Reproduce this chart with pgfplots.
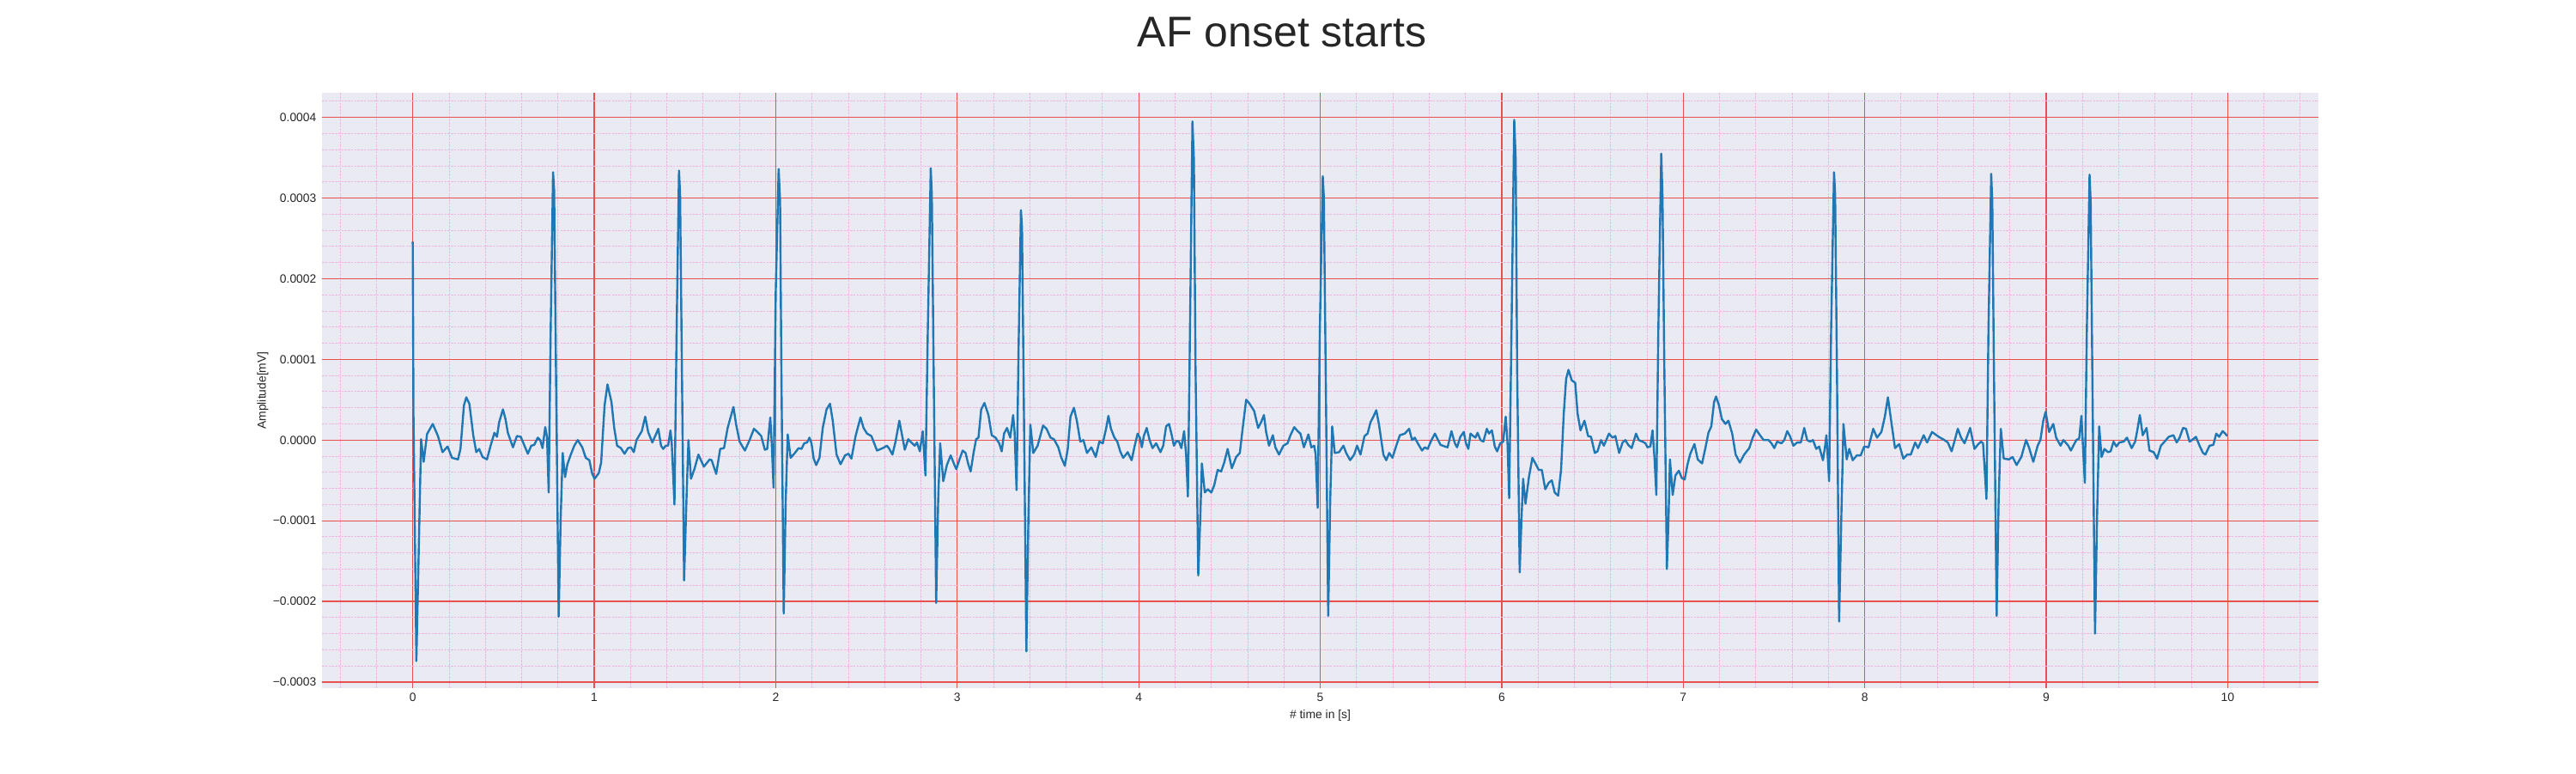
\documentclass[border=0pt]{standalone}
\usepackage{fontspec}
\setmainfont{Liberation Sans}
\usepackage{pgfplots}
\usepackage{pgfplotstable}
\pgfplotsset{compat=1.18}
\definecolor{bgc}{RGB}{234,234,242}
\definecolor{majc}{RGB}{232,80,80}
\definecolor{minc}{RGB}{238,180,226}
\definecolor{linec}{RGB}{31,119,180}
\definecolor{txt}{RGB}{38,38,38}
% t in s, v in units of 1e-4 mV
\pgfplotstableread{
t v
0.000 2.46
0.004 0.30
0.020 -2.74
0.046 0.01
0.060 -0.27
0.079 0.075
0.110 0.20
0.139 0.05
0.164 -0.15
0.192 -0.08
0.216 -0.22
0.249 -0.24
0.263 -0.11
0.282 0.43
0.295 0.53
0.312 0.45
0.334 0.05
0.350 -0.15
0.366 -0.11
0.385 -0.21
0.409 -0.24
0.429 -0.07
0.450 0.09
0.464 0.04
0.476 0.22
0.497 0.38
0.511 0.26
0.524 0.09
0.552 -0.09
0.574 0.05
0.595 0.04
0.610 -0.04
0.634 -0.17
0.653 -0.07
0.669 -0.06
0.689 0.03
0.702 0.00
0.715 -0.10
0.730 0.16
0.740 0.03
0.749 -0.65
0.760 1.37
0.773 3.32
0.779 3.10
0.789 0.90
0.804 -2.19
0.815 -0.98
0.826 -0.16
0.839 -0.46
0.852 -0.30
0.871 -0.18
0.890 -0.07
0.909 0.00
0.934 -0.09
0.953 -0.22
0.973 -0.25
0.989 -0.42
1.002 -0.48
1.025 -0.41
1.038 -0.28
1.057 0.43
1.073 0.69
1.095 0.47
1.110 0.15
1.126 -0.07
1.147 -0.10
1.167 -0.17
1.186 -0.10
1.202 -0.09
1.218 -0.15
1.233 0.00
1.246 0.05
1.262 0.11
1.281 0.29
1.297 0.10
1.320 -0.03
1.336 0.05
1.353 0.14
1.368 -0.07
1.380 -0.11
1.394 -0.07
1.407 -0.07
1.420 0.12
1.427 -0.04
1.442 -0.80
1.454 1.37
1.467 3.34
1.473 3.05
1.483 0.90
1.495 -1.74
1.508 -0.75
1.519 0.00
1.533 -0.48
1.552 -0.36
1.574 -0.18
1.604 -0.33
1.636 -0.24
1.647 -0.25
1.672 -0.42
1.694 -0.11
1.715 -0.10
1.735 0.15
1.767 0.41
1.782 0.19
1.801 -0.02
1.830 -0.13
1.856 0.00
1.880 0.14
1.899 0.10
1.920 0.05
1.940 -0.12
1.953 -0.11
1.970 0.28
1.978 -0.04
1.988 -0.59
2.000 1.83
2.016 3.36
2.024 2.96
2.031 0.90
2.044 -2.15
2.055 -0.75
2.066 0.07
2.082 -0.22
2.102 -0.17
2.126 -0.10
2.142 -0.11
2.157 -0.04
2.173 -0.03
2.186 0.03
2.197 -0.04
2.209 -0.23
2.223 -0.31
2.241 -0.22
2.259 0.15
2.280 0.38
2.299 0.45
2.314 0.24
2.335 -0.18
2.357 -0.30
2.382 -0.19
2.401 -0.17
2.417 -0.23
2.440 0.05
2.467 0.28
2.484 0.15
2.503 0.08
2.527 0.05
2.558 -0.13
2.590 -0.10
2.613 -0.07
2.626 -0.11
2.643 -0.18
2.660 -0.02
2.681 0.24
2.697 0.05
2.711 -0.12
2.730 0.01
2.747 -0.03
2.766 -0.07
2.778 -0.03
2.794 -0.14
2.810 0.11
2.825 -0.44
2.838 1.37
2.854 3.37
2.860 3.05
2.870 0.90
2.884 -2.02
2.895 -0.75
2.906 -0.04
2.923 -0.51
2.943 -0.31
2.964 -0.19
2.983 -0.30
2.995 -0.36
3.011 -0.25
3.030 -0.13
3.046 -0.16
3.061 -0.30
3.074 -0.39
3.090 -0.16
3.104 0.01
3.117 0.03
3.132 0.38
3.150 0.46
3.172 0.31
3.190 0.06
3.211 0.03
3.231 -0.04
3.245 -0.14
3.258 0.08
3.274 0.15
3.292 0.03
3.308 0.31
3.316 0.10
3.327 -0.62
3.338 1.13
3.351 2.85
3.357 2.63
3.365 0.90
3.381 -2.62
3.392 -0.98
3.403 0.19
3.419 -0.16
3.443 -0.07
3.473 0.18
3.492 0.14
3.514 0.03
3.533 0.01
3.557 -0.09
3.572 -0.21
3.593 -0.32
3.609 -0.11
3.624 0.29
3.643 0.40
3.659 0.24
3.678 -0.02
3.695 0.00
3.715 -0.16
3.739 -0.09
3.763 -0.21
3.783 -0.02
3.802 -0.04
3.821 0.15
3.833 0.30
3.847 0.14
3.866 0.03
3.882 -0.02
3.898 -0.14
3.914 -0.22
3.926 -0.19
3.939 -0.15
3.961 -0.25
3.978 -0.07
3.994 0.08
4.006 0.03
4.017 -0.09
4.028 0.05
4.044 0.15
4.060 0.00
4.076 -0.10
4.096 -0.04
4.120 -0.15
4.135 -0.07
4.151 0.17
4.167 0.20
4.180 0.08
4.194 -0.07
4.209 -0.01
4.222 -0.02
4.235 -0.10
4.250 0.11
4.261 -0.18
4.271 -0.70
4.280 0.90
4.296 3.95
4.304 3.48
4.313 0.90
4.328 -1.68
4.339 -0.98
4.348 -0.29
4.364 -0.65
4.380 -0.61
4.400 -0.65
4.416 -0.56
4.435 -0.37
4.454 -0.39
4.471 -0.28
4.490 -0.11
4.513 -0.35
4.537 -0.21
4.557 -0.16
4.573 0.15
4.592 0.50
4.611 0.45
4.636 0.36
4.658 0.15
4.674 0.22
4.690 0.31
4.702 0.10
4.718 -0.07
4.739 0.06
4.753 -0.09
4.773 -0.18
4.797 -0.07
4.820 -0.04
4.836 0.06
4.857 0.16
4.876 0.11
4.891 0.08
4.910 -0.09
4.935 0.07
4.951 -0.09
4.967 -0.07
4.975 -0.18
4.986 -0.84
4.998 1.37
5.014 3.27
5.020 3.01
5.030 0.90
5.044 -2.18
5.055 -0.75
5.066 0.17
5.080 -0.16
5.104 -0.15
5.128 -0.07
5.143 -0.16
5.165 -0.25
5.187 -0.18
5.203 -0.07
5.222 -0.18
5.244 0.05
5.261 0.08
5.277 0.22
5.293 0.29
5.309 0.37
5.324 0.19
5.348 -0.18
5.364 -0.25
5.380 -0.16
5.398 -0.22
5.419 -0.07
5.439 0.06
5.466 0.08
5.490 0.14
5.506 0.00
5.521 0.03
5.540 -0.05
5.561 -0.13
5.576 -0.09
5.592 -0.11
5.613 0.00
5.632 0.08
5.647 0.01
5.663 -0.06
5.687 -0.08
5.702 -0.09
5.723 0.11
5.742 -0.04
5.754 -0.09
5.772 0.04
5.791 0.10
5.803 -0.04
5.816 -0.11
5.828 0.08
5.843 0.05
5.855 0.03
5.867 0.09
5.883 0.00
5.899 -0.02
5.918 0.14
5.930 0.08
5.946 0.12
5.962 -0.08
5.975 -0.14
5.992 -0.04
6.008 -0.02
6.022 0.29
6.032 -0.04
6.041 -0.72
6.054 1.37
6.069 3.97
6.077 3.48
6.085 0.90
6.099 -1.64
6.109 -0.98
6.118 -0.48
6.131 -0.79
6.150 -0.46
6.169 -0.22
6.188 -0.30
6.204 -0.37
6.221 -0.37
6.240 -0.61
6.259 -0.53
6.276 -0.50
6.292 -0.65
6.311 -0.69
6.327 -0.37
6.342 0.33
6.355 0.76
6.368 0.87
6.386 0.74
6.405 0.71
6.418 0.33
6.434 0.12
6.456 0.24
6.476 0.05
6.492 0.04
6.513 -0.16
6.528 -0.14
6.547 0.00
6.563 -0.07
6.591 0.08
6.610 0.03
6.626 0.05
6.647 -0.16
6.666 -0.03
6.681 0.00
6.697 -0.06
6.716 -0.10
6.740 0.08
6.755 0.00
6.776 -0.02
6.792 -0.04
6.803 -0.09
6.819 -0.08
6.831 0.12
6.842 -0.23
6.852 -0.68
6.863 1.37
6.879 3.55
6.886 3.01
6.896 0.90
6.910 -1.60
6.919 -0.98
6.927 -0.24
6.942 -0.68
6.957 -0.44
6.976 -0.38
6.992 -0.47
7.008 -0.49
7.024 -0.30
7.039 -0.17
7.062 -0.05
7.080 -0.24
7.104 -0.29
7.123 -0.09
7.139 0.09
7.155 0.17
7.170 0.47
7.181 0.54
7.197 0.43
7.213 0.26
7.233 0.20
7.249 0.24
7.270 0.08
7.289 -0.18
7.312 -0.28
7.336 -0.18
7.364 -0.10
7.383 0.03
7.402 0.13
7.423 0.06
7.443 0.00
7.470 0.00
7.486 -0.04
7.502 -0.10
7.517 -0.02
7.541 -0.04
7.557 0.00
7.573 0.11
7.588 0.05
7.607 -0.07
7.628 -0.03
7.648 -0.03
7.667 0.15
7.683 0.00
7.699 -0.02
7.715 0.00
7.733 -0.11
7.749 -0.08
7.770 -0.25
7.781 -0.09
7.789 0.06
7.797 -0.23
7.804 -0.51
7.815 1.37
7.831 3.32
7.837 3.05
7.847 0.90
7.859 -2.25
7.871 -0.98
7.883 0.20
7.901 -0.24
7.915 -0.11
7.934 -0.25
7.957 -0.19
7.978 -0.19
7.997 -0.08
8.021 -0.09
8.047 0.14
8.068 0.03
8.092 0.10
8.111 0.29
8.128 0.53
8.147 0.22
8.167 -0.10
8.190 -0.05
8.213 -0.23
8.234 -0.18
8.254 -0.18
8.278 -0.03
8.294 -0.10
8.325 0.06
8.344 -0.03
8.371 0.10
8.408 0.04
8.439 0.00
8.458 -0.03
8.479 -0.14
8.494 -0.02
8.513 0.14
8.531 0.03
8.550 -0.04
8.565 0.05
8.581 0.15
8.605 -0.11
8.626 -0.05
8.641 -0.02
8.652 -0.04
8.660 -0.32
8.671 -0.73
8.682 1.37
8.697 3.30
8.703 2.96
8.712 0.90
8.727 -2.18
8.738 -0.75
8.750 0.14
8.766 -0.23
8.795 -0.24
8.815 -0.21
8.837 -0.31
8.863 -0.21
8.889 0.00
8.905 -0.09
8.929 -0.27
8.953 -0.07
8.968 0.00
8.984 0.24
8.997 0.35
9.016 0.10
9.039 0.20
9.055 0.03
9.079 -0.07
9.095 0.00
9.122 -0.07
9.136 -0.13
9.166 0.00
9.182 0.02
9.194 0.30
9.204 -0.14
9.213 -0.53
9.224 1.37
9.239 3.29
9.245 2.96
9.254 0.90
9.269 -2.40
9.280 -0.98
9.292 0.17
9.305 -0.21
9.321 -0.11
9.340 -0.15
9.355 -0.14
9.371 -0.02
9.387 -0.08
9.403 -0.03
9.427 -0.02
9.445 0.03
9.471 -0.10
9.490 -0.02
9.502 0.12
9.516 0.31
9.532 0.06
9.553 0.15
9.569 -0.13
9.592 -0.15
9.611 -0.23
9.632 -0.07
9.656 -0.01
9.675 0.04
9.701 0.06
9.719 -0.03
9.735 0.03
9.754 0.15
9.770 0.14
9.790 -0.02
9.809 0.01
9.825 0.04
9.845 -0.07
9.864 -0.16
9.877 -0.18
9.900 -0.07
9.921 -0.06
9.937 0.08
9.953 0.04
9.972 0.11
9.987 0.08
9.997 0.05
}\ecg
\begin{document}
\begin{tikzpicture}
\path[use as bounding box] (0,0) rectangle (1000pt,300pt);
\begin{axis}[
  at={(125pt,33pt)}, anchor=south west,
  width=775pt, height=231pt, scale only axis,
  xmin=-0.5, xmax=10.5, ymin=-0.0003075, ymax=0.0004305,
  axis background/.style={fill=bgc},
  axis line style={draw=none},
  major tick length=0pt, minor tick length=0pt,
  xtick={0,1,2,3,4,5,6,7,8,9,10},
  xticklabels={0,1,2,3,4,5,6,7,8,9,10},
  minor xtick={-0.4,-0.2,0.2,0.4,0.6,0.8,1.2,1.4,1.6,1.8,2.2,2.4,2.6,2.8,3.2,3.4,3.6,3.8,4.2,4.4,4.6,4.8,5.2,5.4,5.6,5.8,6.2,6.4,6.6,6.8,7.2,7.4,7.6,7.8,8.2,8.4,8.6,8.8,9.2,9.4,9.6,9.8,10.2,10.4},
  ytick={-0.0003,-0.0002,-0.0001,0,0.0001,0.0002,0.0003,0.0004},
  yticklabels={−0.0003,−0.0002,−0.0001,0.0000,0.0001,0.0002,0.0003,0.0004},
  minor ytick={-0.00028,-0.00026,-0.00024,-0.00022,-0.00018,-0.00016,-0.00014,-0.00012,-0.00008,-0.00006,-0.00004,-0.00002,0.00002,0.00004,0.00006,0.00008,0.00012,0.00014,0.00016,0.00018,0.00022,0.00024,0.00026,0.00028,0.00032,0.00034,0.00036,0.00038,0.00042},
  scaled y ticks=false, scaled x ticks=false,
  grid=both,
  major grid style={draw=majc, line width=0.42pt},
  minor grid style={draw=minc, line width=0.3pt, dash pattern=on 0.9pt off 0.35pt},
  tick label style={font=\fontsize{4.63}{5.5}\selectfont, text=txt},
  xticklabel style={anchor=base, yshift=-5.2pt},
  yticklabel style={anchor=east, inner sep=0pt, xshift=-2pt},
  xlabel={\# time in [s]},
  ylabel={Amplitude[mV]},
  label style={font=\fontsize{4.63}{5.5}\selectfont, text=txt},
  xlabel style={at={(axis description cs:0.5,0)}, anchor=base, yshift=-11.7pt},
  ylabel style={at={(axis description cs:0,0.5)}, anchor=center, yshift=23pt},
]
\addplot[draw=linec, line width=0.8pt, line join=round, no marks] table[x=t, y expr=\thisrow{v}*1e-4] {\ecg};
\end{axis}
\node[font=\fontsize{16.67}{20}\selectfont, text=txt, anchor=base] at (497.7pt,281.7pt) {AF onset starts};
\end{tikzpicture}
\end{document}
